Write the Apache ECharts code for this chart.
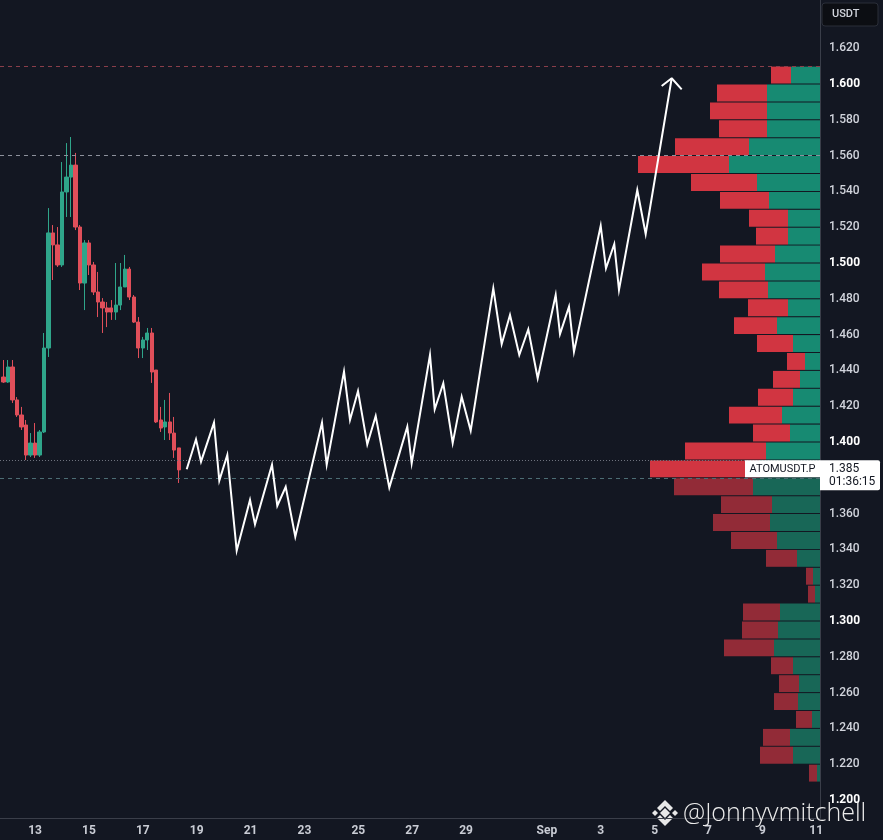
<!DOCTYPE html>
<html><head><meta charset="utf-8">
<script src="https://cdn.jsdelivr.net/npm/echarts@6/dist/echarts.min.js"></script>
<style>html,body{margin:0;padding:0;background:#131722;}#c{width:883px;height:840px;}</style>
</head><body><div id="c"></div>
<script>
// ---- candles (4h) ----
const candleTimes = ['08-11 20:00',
 '08-12 00:00','08-12 04:00','08-12 08:00','08-12 12:00','08-12 16:00','08-12 20:00',
 '08-13 00:00','08-13 04:00','08-13 08:00','08-13 12:00','08-13 16:00','08-13 20:00',
 '08-14 00:00','08-14 04:00','08-14 08:00','08-14 12:00','08-14 16:00','08-14 20:00',
 '08-15 00:00','08-15 04:00','08-15 08:00','08-15 12:00','08-15 16:00','08-15 20:00',
 '08-16 00:00','08-16 04:00','08-16 08:00','08-16 12:00','08-16 16:00','08-16 20:00',
 '08-17 00:00','08-17 04:00','08-17 08:00','08-17 12:00','08-17 16:00','08-17 20:00',
 '08-18 00:00','08-18 04:00','08-18 08:00'];
const candleOpen  = [1.4363,1.4335,1.4419,1.4235,1.4151,1.4095,1.3927,1.3994,1.3927,1.4056,1.4525,1.5168,1.5101,1.4989,1.5397,1.5480,1.5547,1.5201,1.4888,1.5112,1.4989,1.4838,1.4782,1.4749,1.4749,1.4726,1.4765,1.4866,1.4966,1.4810,1.4670,1.4525,1.4570,1.4609,1.4402,1.4123,1.4084,1.4112,1.4050,1.3967];
const candleClose = [1.4335,1.4419,1.4235,1.4151,1.4084,1.3927,1.3994,1.3927,1.4056,1.4525,1.5168,1.5101,1.4989,1.5397,1.5480,1.5547,1.5201,1.4888,1.5112,1.4989,1.4838,1.4782,1.4749,1.4726,1.4726,1.4765,1.4866,1.4966,1.4810,1.4670,1.4525,1.4570,1.4609,1.4391,1.4112,1.4078,1.4112,1.4050,1.3955,1.3844];
const candleLow   = [1.4330,1.4330,1.4218,1.4140,1.4067,1.3899,1.3916,1.3911,1.3916,1.4050,1.4475,1.4905,1.4978,1.4978,1.5257,1.5257,1.5184,1.4849,1.4737,1.4933,1.4821,1.4698,1.4609,1.4642,1.4682,1.4682,1.4737,1.4866,1.4793,1.4665,1.4469,1.4469,1.4514,1.4330,1.4106,1.4056,1.4011,1.4011,1.3911,1.3771];
const candleHigh  = [1.4458,1.4458,1.4458,1.4251,1.4196,1.4123,1.4050,1.4106,1.4067,1.4609,1.5307,1.5212,1.5201,1.5564,1.5670,1.5704,1.5615,1.5212,1.5128,1.5128,1.5006,1.4950,1.4804,1.4782,1.4793,1.5000,1.5000,1.5045,1.4978,1.4821,1.4698,1.4587,1.4637,1.4637,1.4402,1.4196,1.4235,1.4274,1.4140,1.3967];

// ---- projected path (day offset from Aug 13, price) ----
const pathDay   = [5.631,5.976,6.162,6.644,6.841,7.138,7.487,7.981,8.166,8.797,8.994,9.306,9.662,10.653,10.828,11.470,11.693,11.990,12.335,12.647,13.152,13.820,13.983,14.662,14.837,15.156,15.505,15.839,16.173,17.012,17.324,17.632,17.977,18.311,18.660,19.328,19.488,19.822,20.007,20.999,21.195,21.503,21.678,22.357,22.669,23.634];
const pathPrice = [1.3848,1.4015,1.3890,1.4108,1.3784,1.3927,1.3393,1.3676,1.3540,1.3873,1.3644,1.3750,1.3471,1.4108,1.3873,1.4393,1.4123,1.4285,1.3987,1.4145,1.3745,1.4085,1.3881,1.4486,1.4182,1.4328,1.3994,1.4253,1.4063,1.4859,1.4547,1.4709,1.4486,1.4630,1.4356,1.4821,1.4603,1.4756,1.4504,1.5208,1.4970,1.5106,1.4849,1.5408,1.5162,1.6032];
const arrowDay   = [23.263,23.634,24.006];
const arrowPrice = [1.5989,1.6032,1.5970];

// ---- volume profile (bin low price, total volume, buy volume) ----
const vpLow   = [1.60,1.59,1.58,1.57,1.56,1.55,1.54,1.53,1.52,1.51,1.50,1.49,1.48,1.47,1.46,1.45,1.44,1.43,1.42,1.41,1.40,1.39,1.38,1.37,1.36,1.35,1.34,1.33,1.32,1.31,1.30,1.29,1.28,1.27,1.26,1.25,1.24,1.23,1.22,1.21];
const vpTotal = [49,103,110,101,145,182,129,100,71,64,100,118,101,72,86,63,33,47,62,91,67,135,170,146,99,107,89,54,14,12,77,78,96,49,41,46,24,57,60,11];
const vpBuy   = [29,53,53,53,71,91,63,51,32,32,45,55,52,32,43,27,15,20,27,38,30,54,60,67,48,50,43,23,7,5,40,42,46,27,21,22,8,30,27,3];
const vpStep = 0.01;
const valueAreaLow = 1.38;

// ---- levels ----
const levelUpper = 1.6101;
const levelMid = 1.5553;
const levelLower = 1.3804;
const currentPrice = 1.385;
const countdown = '01:36:15';
const symbolName = 'ATOMUSDT.P';

// ---- axes ----
const dateTickDays   = [0,2,4,6,8,10,12,14,16,19,21,23,25,27,29];
const dateTickLabels = ['13','15','17','19','21','23','25','27','29','Sep','3','5','7','9','11'];
const priceTicks = [1.20,1.22,1.24,1.26,1.28,1.30,1.32,1.34,1.36,1.40,1.42,1.44,1.46,1.48,1.50,1.52,1.54,1.56,1.58,1.60,1.62];
const boldTicks = [1.20,1.30,1.40,1.50,1.60];

function toDay(s){
  const m = +s.slice(0,2), d = +s.slice(3,5), h = +s.slice(6,8);
  const dom = m === 8 ? d : d + 31;
  return dom - 13 + h/24;
}

const UP = '#2fa58a', DOWN = '#e04f5a';
const VP_RED = '#d13541', VP_GREEN = '#178a72', VP_RED_D = '#922b37', VP_GREEN_D = '#186757';
const FONT = 'Roboto, "Noto Sans", sans-serif';

const chart = echarts.init(document.getElementById('c'), null, {renderer:'canvas'});
chart.setOption({
  animation:false,
  backgroundColor:'#131722',
  grid:{left:0, right:63, top:0, bottom:22, containLabel:false, outerBoundsMode:'none'},
  xAxis:[{
    type:'value', min:-1.3, max:29.14,
    axisLine:{show:true, onZero:false, lineStyle:{color:'#3a3e49', width:1}},
    axisTick:{show:false}, splitLine:{show:false},
    axisLabel:{customValues:dateTickDays, margin:7, color:'#c9ccd4', fontSize:12, fontWeight:'bold', fontFamily:FONT,
      formatter:v=>{const i=dateTickDays.indexOf(Math.round(v)); return i<0?'':dateTickLabels[i];}}
  },{
    type:'value', min:0, max:820, inverse:true, show:false
  }],
  yAxis:[{
    type:'value', position:'right', min:1.18994, max:1.64693,
    axisLine:{show:true, onZero:false, lineStyle:{color:'#3a3e49', width:1}},
    axisTick:{show:false}, splitLine:{show:false},
    axisLabel:{customValues:priceTicks, margin:9, fontFamily:FONT,
      formatter:v=>{const b=boldTicks.some(t=>Math.abs(t-v)<1e-6); return (b?'{b|':'{n|')+v.toFixed(3)+'}';},
      rich:{b:{color:'#ffffff', fontSize:12, fontWeight:'bold', fontFamily:FONT}, n:{color:'#d1d4dc', fontSize:12, fontWeight:500, fontFamily:FONT}}}
  }],
  series:[
    {
      type:'candlestick', xAxisIndex:0, yAxisIndex:0, z:2, barWidth:3.8,
      encode:{x:0, y:[1,2,3,4]},
      data:candleTimes.map((t,i)=>[toDay(t), candleOpen[i], candleClose[i], candleLow[i], candleHigh[i]]),
      itemStyle:{color:UP, color0:DOWN, borderColor:UP, borderColor0:DOWN, borderWidth:1},
      markLine:{silent:true, symbol:'none', animation:false, label:{show:false},
        data:[
          {yAxis:levelUpper, lineStyle:{color:'#8a3e4a', type:[4,4], width:1}},
          {yAxis:currentPrice, lineStyle:{color:'#6e727d', type:[1,2], width:1}},
          {yAxis:levelLower, lineStyle:{color:'#4c6d74', type:[4,4], width:1}}
        ]}
    },
    {
      type:'custom', xAxisIndex:1, yAxisIndex:0, z:3,
      encode:{x:[1,2], y:0},
      data:vpLow.map((lo,i)=>[lo, vpBuy[i], vpTotal[i]]),
      renderItem:(params, api)=>{
        const lo = api.value(0), buy = api.value(1), tot = api.value(2);
        const pTop = api.coord([0, lo + vpStep]);
        const pBot = api.coord([0, lo]);
        const xBuy = api.coord([buy, lo])[0];
        const xTot = api.coord([tot, lo])[0];
        const dark = lo < valueAreaLow - 1e-6;
        const y0 = pTop[1] + 0.5, h = pBot[1] - pTop[1] - 1;
        return {type:'group', children:[
          {type:'rect', shape:{x:xTot, y:y0, width:xBuy-xTot, height:h}, style:{fill:dark?VP_RED_D:VP_RED}},
          {type:'rect', shape:{x:xBuy, y:y0, width:pTop[0]-xBuy, height:h}, style:{fill:dark?VP_GREEN_D:VP_GREEN}}
        ]};
      }
    },
    {
      type:'line', xAxisIndex:0, yAxisIndex:0, z:6, symbol:'none',
      data:pathDay.map((d,i)=>[d, pathPrice[i]]),
      lineStyle:{color:'#ffffff', width:2, join:'miter'},
      markLine:{silent:true, symbol:'none', animation:false, label:{show:false},
        data:[{yAxis:levelMid, lineStyle:{color:'#8d919c', type:[4,4], width:1}}]}
    },
    {
      type:'line', xAxisIndex:0, yAxisIndex:0, z:6, symbol:'none',
      data:arrowDay.map((d,i)=>[d, arrowPrice[i]]),
      lineStyle:{color:'#ffffff', width:2}
    }
  ]
});

const yPix = chart.convertToPixel({yAxisIndex:0}, currentPrice);
chart.setOption({
  graphic:[
    {type:'rect', z:100, shape:{x:822, y:3, width:56, height:23, r:3}, style:{fill:'#0c0e13', stroke:'#2a2e39', lineWidth:1}},
    {type:'text', z:101, style:{x:832, y:14.5, text:'USDT', fill:'#d1d4dc', font:'500 11px '+FONT, verticalAlign:'middle'}},
    {type:'rect', z:100, shape:{x:745, y:yPix-8.5, width:75, height:17}, style:{fill:'#ffffff'}},
    {type:'text', z:101, style:{x:782.5, y:yPix, text:symbolName, fill:'#131722', font:'11px '+FONT, align:'center', verticalAlign:'middle'}},
    {type:'rect', z:100, shape:{x:820, y:yPix-8.5, width:60, height:30, r:[0,2,2,0]}, style:{fill:'#ffffff'}},
    {type:'text', z:101, style:{x:829, y:yPix, text:currentPrice.toFixed(3), fill:'#131722', font:'12px '+FONT, verticalAlign:'middle'}},
    {type:'text', z:101, style:{x:829, y:yPix+13.5, text:countdown, fill:'#131722', font:'12px '+FONT, verticalAlign:'middle'}},
    // watermark
    {type:'group', z:120, children:[
      {type:'polygon', shape:{points:[[665,808],[670,813],[665,818],[660,813]]}, style:{fill:'#e8e8e8'}},
      {type:'polygon', shape:{points:[[655,810],[658,813],[655,816],[652,813]]}, style:{fill:'#e8e8e8'}},
      {type:'polygon', shape:{points:[[675,810],[678,813],[675,816],[672,813]]}, style:{fill:'#e8e8e8'}},
      {type:'polygon', shape:{points:[[665,800],[673,808],[670,811],[665,806],[660,811],[657,808]]}, style:{fill:'#e8e8e8'}},
      {type:'polygon', shape:{points:[[665,826],[673,818],[670,815],[665,820],[660,815],[657,818]]}, style:{fill:'#e8e8e8'}}
    ]},
    {type:'text', z:120, style:{x:683, y:814, text:'@Jonnyvmitchell', fill:'#ececec', font:'300 25px "Open Sans", sans-serif', verticalAlign:'middle',
      shadowColor:'rgba(0,0,0,0.5)', shadowBlur:3}}
  ]
});
</script>
</body></html>
